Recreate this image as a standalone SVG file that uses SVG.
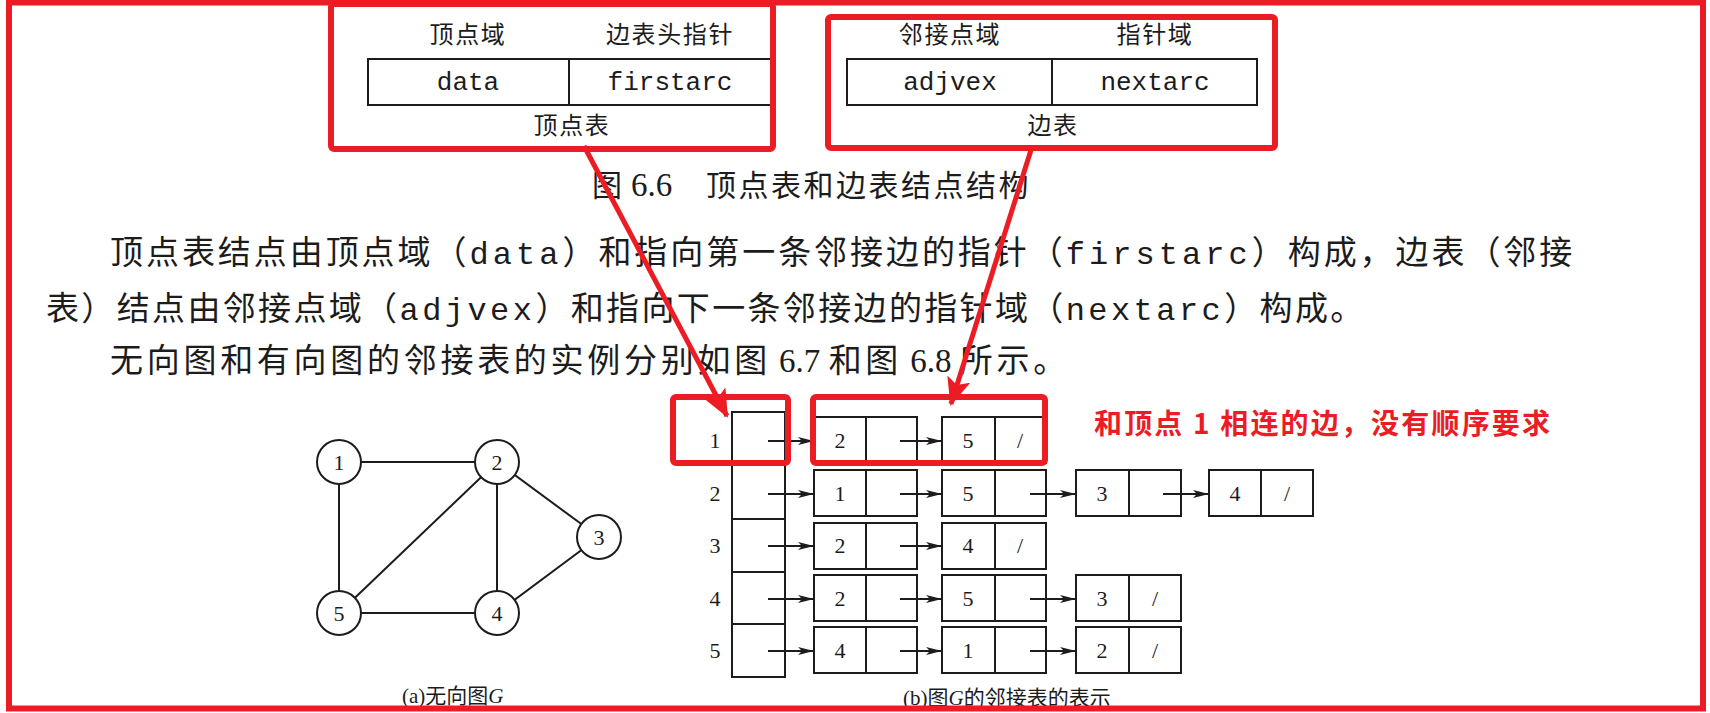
<svg xmlns="http://www.w3.org/2000/svg" width="1710" height="713" viewBox="0 0 1710 713">
<style>
.cjk{font-family:"Noto Sans CJK SC","Liberation Sans",sans-serif;fill:#1c1c1c}
.mono{font-family:"Liberation Mono",monospace;fill:#1c1c1c}
.ser{font-family:"Liberation Serif","Noto Sans CJK SC",serif;fill:#1c1c1c}
.box{fill:none;stroke:#1c1c1c;stroke-width:2}
.red{fill:none;stroke:#ec1c24;stroke-width:6}
.edge{stroke:#1c1c1c;stroke-width:2;fill:none}
.ptr{stroke:#1c1c1c;stroke-width:2;fill:none;marker-end:url(#ah)}
.gn{fill:#fff;stroke:#1c1c1c;stroke-width:2}
.body{font-size:33px;letter-spacing:3.7px}
.bmono{font-family:"Liberation Mono",monospace;font-size:32px;letter-spacing:4.8px}
.num{font-family:"Liberation Serif",serif;font-size:22px;fill:#1c1c1c;text-anchor:middle}
</style>
<defs>
<marker id="ah" markerUnits="userSpaceOnUse" markerWidth="16" markerHeight="8" refX="16" refY="4" orient="auto">
<path d="M0,0 L16,4 L0,8 L4,4 Z" fill="#1c1c1c"/>
</marker>
<marker id="rah" markerUnits="userSpaceOnUse" markerWidth="28" markerHeight="24" refX="26" refY="12" orient="auto">
<path d="M0,0 L28,12 L0,24 L6,12 Z" fill="#ec1c24"/>
</marker>
</defs>
<rect width="1710" height="713" fill="#fff"/>

<!-- vertex node structure -->
<g id="vertex-struct">
<text class="cjk" x="468" y="43" font-size="24" letter-spacing="1.6" text-anchor="middle">顶点域</text>
<text class="cjk" x="670" y="43" font-size="24" letter-spacing="1.6" text-anchor="middle">边表头指针</text>
<rect class="box" x="368" y="59" width="403" height="46"/>
<line class="box" x1="569" y1="59" x2="569" y2="105"/>
<text class="mono" x="468" y="90" font-size="26" text-anchor="middle">data</text>
<text class="mono" x="670" y="90" font-size="26" text-anchor="middle">firstarc</text>
<text class="cjk" x="572" y="134" font-size="24" letter-spacing="1.6" text-anchor="middle">顶点表</text>
</g>

<!-- edge node structure -->
<g id="edge-struct">
<text class="cjk" x="950" y="43" font-size="24" letter-spacing="1.6" text-anchor="middle">邻接点域</text>
<text class="cjk" x="1155" y="43" font-size="24" letter-spacing="1.6" text-anchor="middle">指针域</text>
<rect class="box" x="847" y="59" width="410" height="46"/>
<line class="box" x1="1052" y1="59" x2="1052" y2="105"/>
<text class="mono" x="950" y="90" font-size="26" text-anchor="middle">adjvex</text>
<text class="mono" x="1155" y="90" font-size="26" text-anchor="middle">nextarc</text>
<text class="cjk" x="1053" y="134" font-size="24" letter-spacing="1.6" text-anchor="middle">边表</text>
</g>

<!-- caption -->
<g id="fig66-caption">
<text class="cjk" y="196" font-size="30"><tspan x="592">图</tspan><tspan class="ser" x="631" font-size="33">6.6</tspan><tspan x="706" letter-spacing="2.5">顶点表和边表结点结构</tspan></text>
</g>

<!-- paragraph -->
<g id="paragraph">
<text class="cjk body" x="110" y="264" textLength="1466" lengthAdjust="spacing">顶点表结点由顶点域（<tspan class="bmono">data</tspan>）和指向第一条邻接边的指针（<tspan class="bmono">firstarc</tspan>）构成，边表（邻接</text>
<text class="cjk body" x="46" y="320" textLength="1321" lengthAdjust="spacing">表）结点由邻接点域（<tspan class="bmono">adjvex</tspan>）和指向下一条邻接边的指针域（<tspan class="bmono">nextarc</tspan>）构成。</text>
<text class="cjk body" x="110" y="372" textLength="960" lengthAdjust="spacing">无向图和有向图的邻接表的实例分别如图<tspan class="ser" letter-spacing="0"> 6.7 </tspan>和图<tspan class="ser" letter-spacing="0"> 6.8 </tspan>所示。</text>
</g>

<!-- graph G -->
<g id="graph-edges">
<line class="edge" x1="339" y1="462" x2="497" y2="462"/>
<line class="edge" x1="339" y1="462" x2="339" y2="613"/>
<line class="edge" x1="497" y1="462" x2="339" y2="613"/>
<line class="edge" x1="497" y1="462" x2="497" y2="613"/>
<line class="edge" x1="497" y1="462" x2="599" y2="537"/>
<line class="edge" x1="599" y1="537" x2="497" y2="613"/>
<line class="edge" x1="339" y1="613" x2="497" y2="613"/>
</g>
<g id="gnode-1"><circle class="gn" cx="339" cy="462" r="22"/><text class="num" x="339" y="470">1</text></g>
<g id="gnode-2"><circle class="gn" cx="497" cy="462" r="22"/><text class="num" x="497" y="470">2</text></g>
<g id="gnode-3"><circle class="gn" cx="599" cy="537" r="22"/><text class="num" x="599" y="545">3</text></g>
<g id="gnode-4"><circle class="gn" cx="497" cy="613" r="22"/><text class="num" x="497" y="621">4</text></g>
<g id="gnode-5"><circle class="gn" cx="339" cy="613" r="22"/><text class="num" x="339" y="621">5</text></g>
<text class="ser" x="402" y="703" font-size="21">(a)无向图<tspan font-style="italic">G</tspan></text>

<!-- adjacency list: vertex array -->
<g id="vertex-array">
<rect class="box" x="732" y="412" width="53" height="265"/>
<line class="box" x1="732" y1="465" x2="785" y2="465"/>
<line class="box" x1="732" y1="519" x2="785" y2="519"/>
<line class="box" x1="732" y1="572" x2="785" y2="572"/>
<line class="box" x1="732" y1="624" x2="785" y2="624"/>
<text class="num" x="715" y="448">1</text>
<text class="num" x="715" y="501">2</text>
<text class="num" x="715" y="553">3</text>
<text class="num" x="715" y="606">4</text>
<text class="num" x="715" y="658">5</text>
</g>

<!-- edge nodes -->
<g id="row1-nodes">
<rect class="box" x="814" y="417" width="103" height="46"/><line class="box" x1="866" y1="417" x2="866" y2="463"/><text class="num" x="840" y="448">2</text>
<rect class="box" x="942" y="417" width="104" height="46"/><line class="box" x1="995" y1="417" x2="995" y2="463"/><text class="num" x="968" y="448">5</text><text class="num" x="1020" y="448">/</text>
</g>
<g id="row2-nodes">
<rect class="box" x="814" y="470" width="103" height="46"/><line class="box" x1="866" y1="470" x2="866" y2="516"/><text class="num" x="840" y="501">1</text>
<rect class="box" x="942" y="470" width="104" height="46"/><line class="box" x1="995" y1="470" x2="995" y2="516"/><text class="num" x="968" y="501">5</text>
<rect class="box" x="1076" y="470" width="105" height="46"/><line class="box" x1="1129" y1="470" x2="1129" y2="516"/><text class="num" x="1102" y="501">3</text>
<rect class="box" x="1209" y="470" width="104" height="46"/><line class="box" x1="1261" y1="470" x2="1261" y2="516"/><text class="num" x="1235" y="501">4</text><text class="num" x="1287" y="501">/</text>
</g>
<g id="row3-nodes">
<rect class="box" x="814" y="523" width="103" height="46"/><line class="box" x1="866" y1="523" x2="866" y2="569"/><text class="num" x="840" y="553">2</text>
<rect class="box" x="942" y="523" width="104" height="46"/><line class="box" x1="995" y1="523" x2="995" y2="569"/><text class="num" x="968" y="553">4</text><text class="num" x="1020" y="553">/</text>
</g>
<g id="row4-nodes">
<rect class="box" x="814" y="575" width="103" height="46"/><line class="box" x1="866" y1="575" x2="866" y2="621"/><text class="num" x="840" y="606">2</text>
<rect class="box" x="942" y="575" width="104" height="46"/><line class="box" x1="995" y1="575" x2="995" y2="621"/><text class="num" x="968" y="606">5</text>
<rect class="box" x="1076" y="575" width="105" height="46"/><line class="box" x1="1129" y1="575" x2="1129" y2="621"/><text class="num" x="1102" y="606">3</text><text class="num" x="1155" y="606">/</text>
</g>
<g id="row5-nodes">
<rect class="box" x="814" y="627" width="103" height="46"/><line class="box" x1="866" y1="627" x2="866" y2="673"/><text class="num" x="840" y="658">4</text>
<rect class="box" x="942" y="627" width="104" height="46"/><line class="box" x1="995" y1="627" x2="995" y2="673"/><text class="num" x="968" y="658">1</text>
<rect class="box" x="1076" y="627" width="105" height="46"/><line class="box" x1="1129" y1="627" x2="1129" y2="673"/><text class="num" x="1102" y="658">2</text><text class="num" x="1155" y="658">/</text>
</g>

<g id="list-connectors">
<line class="ptr" x1="768" y1="441" x2="814" y2="441"/>
<line class="ptr" x1="900" y1="441" x2="942" y2="441"/>
<line class="ptr" x1="768" y1="494" x2="814" y2="494"/>
<line class="ptr" x1="900" y1="494" x2="942" y2="494"/>
<line class="ptr" x1="1030" y1="494" x2="1076" y2="494"/>
<line class="ptr" x1="1163" y1="494" x2="1209" y2="494"/>
<line class="ptr" x1="768" y1="546" x2="814" y2="546"/>
<line class="ptr" x1="900" y1="546" x2="942" y2="546"/>
<line class="ptr" x1="768" y1="599" x2="814" y2="599"/>
<line class="ptr" x1="900" y1="599" x2="942" y2="599"/>
<line class="ptr" x1="1030" y1="599" x2="1076" y2="599"/>
<line class="ptr" x1="768" y1="651" x2="814" y2="651"/>
<line class="ptr" x1="900" y1="651" x2="942" y2="651"/>
<line class="ptr" x1="1030" y1="651" x2="1076" y2="651"/>
</g>
<text class="ser" x="903" y="705" font-size="21">(b)图<tspan font-style="italic">G</tspan>的邻接表的表示</text>

<!-- red annotations -->
<g id="red-boxes">
<rect class="red" x="331" y="4" width="442" height="145" rx="3"/>
<rect class="red" x="828" y="17" width="447" height="131" rx="3"/>
<rect class="red" x="673" y="397" width="115" height="66" rx="3"/>
<rect class="red" x="813" y="397" width="232" height="66" rx="3"/>
</g>
<g id="red-arrows">
<line x1="584" y1="146" x2="727" y2="416" stroke="#ec1c24" stroke-width="5" marker-end="url(#rah)"/>
<line x1="1031" y1="150" x2="951" y2="404" stroke="#ec1c24" stroke-width="5" marker-end="url(#rah)"/>
</g>
<g id="note">
<text x="1094" y="434" font-family="Noto Sans CJK SC, sans-serif" font-weight="bold" font-size="28" fill="#ec1c24" stroke="#fff" stroke-width="5" paint-order="stroke" stroke-linejoin="round" textLength="456" lengthAdjust="spacing">和顶点 1 相连的边，没有顺序要求</text>
</g>
<rect id="frame" x="9" y="2.5" width="1694" height="706" fill="none" stroke="#ec1c24" stroke-width="6"/>
</svg>
